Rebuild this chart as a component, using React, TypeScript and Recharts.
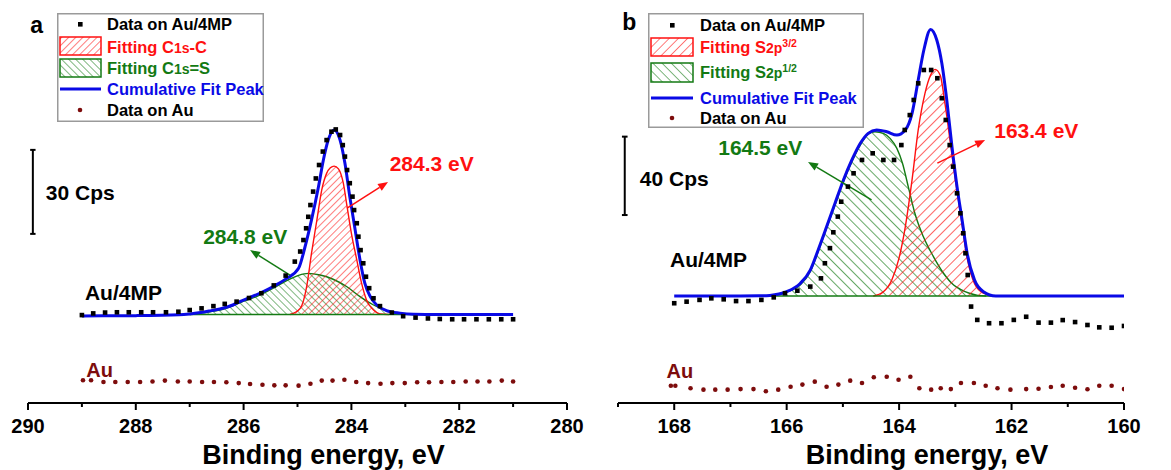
import React from 'react';
import {
  ComposedChart, Area, Line, Scatter, XAxis, YAxis, ReferenceLine, ReferenceDot, Legend,
} from 'recharts';

// ---------- Panel a : C 1s ----------
const aTicks = [280, 281, 282, 283, 284, 285, 286, 287, 288, 289, 290];
const aBase = 31.6;

const aSqE = [289.00, 288.79, 288.57, 288.35, 288.13, 287.90, 287.68, 287.44, 287.21, 287.00, 286.78, 286.56, 286.35, 286.13, 285.90, 285.67, 285.44, 285.22, 285.05, 284.95, 284.89, 284.84, 284.80, 284.76, 284.71, 284.66, 284.60, 284.53, 284.46, 284.37, 284.29, 284.21, 284.16, 284.12, 284.08, 284.03, 283.98, 283.95, 283.90, 283.87, 283.83, 283.78, 283.73, 283.67, 283.59, 283.47, 283.25, 283.04, 282.81, 282.58, 282.36, 282.13, 281.91, 281.68, 281.45, 281.22, 281.00];
const aSqV = [31.4, 32.0, 32.3, 32.4, 32.4, 32.4, 32.4, 32.4, 32.6, 33.2, 33.8, 34.6, 35.4, 36.2, 37.5, 39.2, 42.0, 45.5, 50.5, 54.1, 58.2, 62.4, 66.5, 70.7, 75.5, 80.2, 85.0, 89.8, 93.9, 96.9, 97.7, 95.7, 92.1, 88.0, 83.2, 78.5, 73.7, 68.9, 64.2, 59.4, 54.6, 49.9, 45.1, 41.0, 37.4, 34.6, 32.3, 31.0, 30.5, 30.2, 30.0, 29.9, 29.9, 29.9, 29.9, 29.9, 29.9];

const aFitE = [289.0, 288.0, 287.2, 287.0, 286.8, 286.6, 286.44, 286.2, 286.07, 285.88, 285.7, 285.45, 285.2, 284.98, 284.86, 284.74, 284.61, 284.52, 284.43, 284.32, 284.21, 284.12, 284.03, 283.93, 283.84, 283.75, 283.65, 283.53, 283.35, 283.1, 282.85, 282.4, 281.0];
const aFitV = [31.1, 31.2, 31.5, 31.8, 32.3, 33.0, 33.6, 35.0, 36.2, 37.7, 39.2, 41.6, 44.5, 48.1, 55.8, 65.4, 77.3, 86.8, 93.9, 97.5, 93.9, 85.6, 73.7, 61.8, 51.1, 42.7, 38.0, 35.0, 33.0, 32.1, 31.7, 31.6, 31.6];

const aRedE = [285.14, 284.95, 284.83, 284.74, 284.64, 284.55, 284.46, 284.39, 284.32, 284.24, 284.15, 284.08, 284.00, 283.90, 283.81, 283.72, 283.59, 283.47, 283.3];
const aRedV = [31.6, 33.8, 41.6, 53.5, 65.4, 76.1, 82.0, 84.0, 84.6, 83.6, 78.5, 70.1, 60.6, 51.1, 42.7, 36.8, 33.2, 31.8, 31.6];

const aGrnE = [287.0, 286.8, 286.6, 286.4, 286.2, 286.07, 285.76, 285.45, 285.20, 284.98, 284.80, 284.58, 284.34, 284.09, 283.84, 283.59, 283.35, 283.10, 282.85];
const aGrnV = [31.6, 32.1, 32.7, 33.4, 34.7, 35.8, 38.0, 41.0, 43.7, 45.6, 46.3, 45.7, 44.2, 41.6, 38.0, 35.0, 33.0, 32.0, 31.6];

const aAuE = [288.98, 288.83, 288.60, 288.38, 288.15, 287.92, 287.69, 287.46, 287.22, 287.00, 286.77, 286.55, 286.32, 286.09, 285.88, 285.65, 285.43, 285.22, 284.98, 284.76, 284.55, 284.35, 284.13, 283.91, 283.69, 283.46, 283.24, 283.01, 282.78, 282.56, 282.33, 282.11, 281.88, 281.66, 281.44, 281.21, 281.00];
const aAuV = [8.1, 8.1, 7.5, 7.5, 7.5, 7.5, 7.7, 8.0, 7.7, 7.7, 7.5, 7.5, 7.4, 7.1, 6.8, 6.5, 6.3, 6.3, 6.2, 6.9, 8.0, 8.0, 8.3, 7.5, 7.1, 6.9, 7.1, 7.1, 7.4, 7.4, 7.5, 7.5, 7.7, 7.7, 7.7, 8.0, 7.7];

// ---------- Panel b : S 2p ----------
const bTicks = [160, 161, 162, 163, 164, 165, 166, 167, 168, 169];
const bBase = 54.6;

const bSqE = [168.00, 167.78, 167.55, 167.34, 167.12, 166.90, 166.68, 166.45, 166.23, 166.03, 165.81, 165.58, 165.39, 165.32, 165.23, 165.17, 165.09, 165.03, 164.91, 164.81, 164.66, 164.47, 164.28, 164.09, 163.96, 163.90, 163.81, 163.74, 163.66, 163.56, 163.43, 163.32, 163.24, 163.17, 163.10, 163.04, 162.97, 162.91, 162.86, 162.82, 162.78, 162.72, 162.61, 162.40, 162.18, 161.96, 161.74, 161.52, 161.30, 161.09, 160.87, 160.65, 160.44, 160.22, 160.00];
const bSqV = [50.9, 51.7, 52.6, 53.4, 52.9, 52.0, 52.0, 52.6, 53.9, 56.0, 57.3, 59.4, 63.6, 71.3, 79.0, 87.1, 95.1, 102.7, 110.4, 117.2, 124.0, 127.4, 124.0, 124.0, 131.6, 139.3, 146.9, 154.6, 163.1, 169.9, 169.9, 165.7, 155.5, 144.4, 131.6, 120.6, 107.0, 96.8, 86.6, 76.4, 65.3, 49.2, 42.4, 40.7, 40.7, 42.4, 44.0, 41.0, 41.0, 42.3, 41.3, 39.8, 38.6, 38.4, 39.3];

const bFitE = [168.0, 167.0, 166.5, 166.3, 166.0, 165.76, 165.58, 165.44, 165.29, 165.14, 164.99, 164.84, 164.69, 164.55, 164.40, 164.22, 164.04, 163.89, 163.77, 163.66, 163.56, 163.44, 163.33, 163.24, 163.15, 163.06, 162.97, 162.88, 162.79, 162.66, 162.50, 162.28, 162.0, 161.0, 160.0];
const bFitV = [54.6, 54.6, 54.7, 54.9, 56.8, 61.0, 67.8, 78.1, 89.9, 101.9, 113.8, 124.0, 132.5, 137.6, 139.3, 138.4, 136.7, 139.3, 147.8, 164.8, 180.1, 190.6, 185.2, 173.3, 154.0, 130.8, 110.4, 93.4, 76.4, 62.8, 56.8, 54.6, 54.6, 54.6, 54.6];

const bRedE = [164.46, 164.28, 164.13, 164.01, 163.89, 163.77, 163.66, 163.54, 163.44, 163.36, 163.27, 163.18, 163.09, 163.00, 162.91, 162.79, 162.66, 162.50, 162.35, 162.2];
const bRedV = [54.6, 56.8, 62.8, 73.0, 89.9, 113.8, 139.3, 158.0, 167.3, 170.2, 167.3, 152.0, 133.0, 114.0, 97.0, 74.0, 61.0, 56.0, 54.8, 54.6];

const bGrnE = [166.3, 166.0, 165.76, 165.58, 165.44, 165.29, 165.14, 164.99, 164.84, 164.69, 164.55, 164.43, 164.28, 164.16, 164.04, 163.94, 163.83, 163.72, 163.57, 163.39, 163.21, 163.03, 162.91, 162.75, 162.6, 162.45];
const bGrnV = [54.6, 56.6, 60.2, 67.0, 77.2, 89.1, 101.0, 112.9, 123.1, 131.6, 137.1, 138.4, 137.6, 135.0, 129.9, 122.3, 109.5, 96.8, 84.9, 74.7, 66.2, 60.2, 58.0, 56.0, 54.9, 54.6];

const bAuE = [168.06, 167.98, 167.71, 167.48, 167.27, 167.05, 166.82, 166.59, 166.37, 166.15, 165.93, 165.72, 165.50, 165.29, 165.08, 164.87, 164.66, 164.45, 164.22, 164.01, 163.80, 163.64, 163.43, 163.26, 163.08, 162.90, 162.67, 162.46, 162.25, 162.02, 161.74, 161.52, 161.30, 161.09, 160.87, 160.65, 160.44, 160.22, 160.00];
const bAuV = [8.8, 8.8, 7.5, 6.8, 6.8, 6.8, 7.1, 7.1, 6.0, 6.8, 8.3, 9.4, 10.9, 8.3, 9.4, 11.4, 10.2, 13.1, 13.4, 11.9, 13.4, 7.5, 6.8, 7.5, 7.1, 10.2, 10.2, 8.8, 7.5, 6.8, 7.1, 7.3, 8.2, 8.8, 7.8, 7.0, 8.8, 8.8, 7.1];

// ---------- helpers ----------
const zip = (es: number[], vs: number[]) => es.map((e, i) => ({ e, v: vs[i] }));

const RED = '#ff1010';
const GREEN = '#137a13';
const BLUE = '#0a0ae6';
const DARKRED = '#7d0c0c';
const FONT = "'Liberation Sans', Arial, sans-serif";

const SquareDot = (p: any) => <rect x={p.cx - 2.3} y={p.cy - 2.3} width={4.6} height={4.6} fill="#000" />;
const RoundDot = (p: any) => <circle cx={p.cx} cy={p.cy} r={2.3} fill={DARKRED} />;

const AxisTick = (p: any) => {
  const { x, y, payload } = p;
  const major = payload.value % 2 === 0;
  return (
    <g>
      <line x1={x} y1={y} x2={x} y2={y + (major ? 7 : 4)} stroke="#000" strokeWidth={2} />
      {major && (
        <text x={x} y={y + 30} textAnchor="middle" fontSize={20} fontWeight="bold" fill="#000" fontFamily={FONT}>
          {payload.value}
        </text>
      )}
    </g>
  );
};

const arrowShape = (color: string) => (p: any) => {
  const { x1, y1, x2, y2 } = p;
  const ang = Math.atan2(y2 - y1, x2 - x1);
  const L = 10;
  const W = 4;
  const bx = x2 - L * Math.cos(ang);
  const by = y2 - L * Math.sin(ang);
  const px = -Math.sin(ang) * W;
  const py = Math.cos(ang) * W;
  return (
    <g>
      <line x1={x1} y1={y1} x2={bx} y2={by} stroke={color} strokeWidth={1.5} />
      <polygon points={`${x2},${y2} ${bx + px},${by + py} ${bx - px},${by - py}`} fill={color} />
    </g>
  );
};

const hatch = (id: string, color: string, angle: number, gap: number, w = 1.1) => (
  <pattern id={id} patternUnits="userSpaceOnUse" width={gap} height={gap} patternTransform={`rotate(${angle})`}>
    <line x1={0} y1={0} x2={0} y2={gap} stroke={color} strokeWidth={w} />
  </pattern>
);

const label = (value: string, fill: string, fontSize: number) => ({
  value, fill, fontSize, fontWeight: 'bold', position: 'center' as const, fontFamily: FONT,
});

// ---------- legends ----------
const LegendA = () => (
  <svg width={207} height={109} style={{ display: 'block', fontFamily: FONT }}>
    <defs>
      {hatch('lgRedA', RED, 45, 5)}
      {hatch('lgGrnA', GREEN, -45, 5)}
    </defs>
    <rect x={0.75} y={0.75} width={205.5} height={107.5} fill="#fff" stroke="#9a9a9a" strokeWidth={1.5} />
    <rect x={21} y={9} width={4.6} height={4.6} fill="#000" />
    <text x={50} y={17} fontSize={16.5} fontWeight="bold" fill="#000">Data on Au/4MP</text>
    <rect x={3} y={24} width={41} height={18} fill="url(#lgRedA)" stroke={RED} strokeWidth={1.5} />
    <text x={50} y={39.5} fontSize={16.5} fontWeight="bold" fill={RED}>
      Fitting C<tspan fontSize={14}>1s</tspan>-C
    </text>
    <rect x={3} y={46} width={41} height={18} fill="url(#lgGrnA)" stroke={GREEN} strokeWidth={1.5} />
    <text x={50} y={61} fontSize={16.5} fontWeight="bold" fill={GREEN}>
      Fitting C<tspan fontSize={14}>1s</tspan>=S
    </text>
    <line x1={3} y1={76} x2={44} y2={76} stroke={BLUE} strokeWidth={3} />
    <text x={50} y={82} fontSize={16.5} fontWeight="bold" fill={BLUE}>Cumulative Fit Peak</text>
    <circle cx={23} cy={97} r={2.3} fill={DARKRED} />
    <text x={50} y={103} fontSize={16.5} fontWeight="bold" fill="#000">Data on Au</text>
  </svg>
);

const LegendB = () => (
  <svg width={216} height={115} style={{ display: 'block', fontFamily: FONT }}>
    <defs>
      {hatch('lgRedB', RED, 45, 6.5)}
      {hatch('lgGrnB', GREEN, -45, 6.5)}
    </defs>
    <rect x={0.75} y={0.75} width={214.5} height={113.5} fill="#fff" stroke="#9a9a9a" strokeWidth={1.5} />
    <rect x={22} y={10} width={4.6} height={4.6} fill="#000" />
    <text x={52} y={18} fontSize={16.5} fontWeight="bold" fill="#000">Data on Au/4MP</text>
    <rect x={3} y={25} width={42} height={18} fill="url(#lgRedB)" stroke={RED} strokeWidth={1.5} />
    <text x={52} y={40} fontSize={16.5} fontWeight="bold" fill={RED}>
      Fitting S<tspan fontSize={14}>2p</tspan><tspan fontSize={10.5} dy={-6}>3/2</tspan>
    </text>
    <rect x={3} y={50} width={42} height={19} fill="url(#lgGrnB)" stroke={GREEN} strokeWidth={1.5} />
    <text x={52} y={65} fontSize={16.5} fontWeight="bold" fill={GREEN}>
      Fitting S<tspan fontSize={14}>2p</tspan><tspan fontSize={10.5} dy={-6}>1/2</tspan>
    </text>
    <line x1={3} y1={85} x2={45} y2={85} stroke={BLUE} strokeWidth={3} />
    <text x={52} y={91} fontSize={16.5} fontWeight="bold" fill={BLUE}>Cumulative Fit Peak</text>
    <circle cx={24} cy={105} r={2.3} fill={DARKRED} />
    <text x={52} y={111} fontSize={16.5} fontWeight="bold" fill="#000">Data on Au</text>
  </svg>
);

const xLabel = (value: string, dx: number) => ({
  value, position: 'insideBottom' as const, offset: 6, dx, fontSize: 27, fontWeight: 'bold', fill: '#000', fontFamily: FONT,
});

export default function App() {
  return (
    <div style={{ position: 'absolute', left: 0, top: 0, width: 1171, height: 470, background: '#fff', fontFamily: FONT, overflow: 'hidden' }}>
      {/* Panel a */}
      <div style={{ position: 'absolute', left: 0, top: 0 }}>
        <ComposedChart width={600} height={470} margin={{ top: 11, right: 33, bottom: 0, left: 28 }}>
          <defs>
            {hatch('hRedA', RED, 45, 5)}
            {hatch('hGrnA', GREEN, -45, 5)}
          </defs>
          <XAxis type="number" dataKey="e" domain={[280, 290]} reversed ticks={aTicks} interval={0}
            tick={(p: any) => <AxisTick {...p} />} tickSize={0} tickMargin={0} tickLine={false} height={67}
            axisLine={{ stroke: '#000', strokeWidth: 2 }} allowDataOverflow label={xLabel('Binding energy, eV', 26)} />
          <YAxis type="number" hide domain={[0, 140]} allowDataOverflow />
          <Legend layout="vertical" align="center" verticalAlign="middle" content={() => <LegendA />}
            wrapperStyle={{ left: 57, top: 13, width: 207, height: 109 }} />
          <Area data={zip(aGrnE, aGrnV)} dataKey="v" type="monotone" baseValue={aBase} stroke={GREEN} strokeWidth={1.4}
            fill="url(#hGrnA)" fillOpacity={1} isAnimationActive={false} dot={false} activeDot={false} legendType="none" />
          <Area data={zip(aRedE, aRedV)} dataKey="v" type="monotone" baseValue={aBase} stroke={RED} strokeWidth={1.4}
            fill="url(#hRedA)" fillOpacity={1} isAnimationActive={false} dot={false} activeDot={false} legendType="none" />
          <ReferenceLine segment={[{ x: 287.0, y: aBase }, { x: 282.85, y: aBase }]} stroke={GREEN} strokeWidth={1.4} />
          <Scatter data={zip(aSqE, aSqV)} dataKey="v" shape={SquareDot} isAnimationActive={false} legendType="none" />
          <Line data={zip(aFitE, aFitV)} dataKey="v" type="monotone" stroke={BLUE} strokeWidth={3} dot={false}
            activeDot={false} isAnimationActive={false} legendType="none" />
          <Scatter data={zip(aAuE, aAuV)} dataKey="v" shape={RoundDot} isAnimationActive={false} legendType="none" />
          {/* scale bar */}
          <ReferenceLine segment={[{ x: 289.91, y: 60.4 }, { x: 289.91, y: 90.4 }]} stroke="#000" strokeWidth={2} />
          <ReferenceLine segment={[{ x: 289.96, y: 90.4 }, { x: 289.86, y: 90.4 }]} stroke="#000" strokeWidth={2} />
          <ReferenceLine segment={[{ x: 289.96, y: 60.4 }, { x: 289.86, y: 60.4 }]} stroke="#000" strokeWidth={2} />
          {/* arrows */}
          <ReferenceLine segment={[{ x: 284.08, y: 69.6 }, { x: 283.32, y: 78.9 }]} stroke={RED} shape={arrowShape(RED)} />
          <ReferenceLine segment={[{ x: 285.14, y: 45.7 }, { x: 285.88, y: 54.6 }]} stroke={GREEN} shape={arrowShape(GREEN)} />
          {/* texts */}
          <ReferenceDot x={282.51} y={85.4} r={0} label={label('284.3 eV', RED, 21)} />
          <ReferenceDot x={285.97} y={59.6} r={0} label={label('284.8 eV', GREEN, 21)} />
          <ReferenceDot x={288.23} y={39.6} r={0} label={label('Au/4MP', '#000', 21)} />
          <ReferenceDot x={289.03} y={75.0} r={0} label={label('30 Cps', '#000', 21)} />
          <ReferenceDot x={288.67} y={11.8} r={0} label={label('Au', DARKRED, 20)} />
          <ReferenceDot x={289.84} y={135.2} r={0} label={label('a', '#000', 23)} />
        </ComposedChart>
      </div>

      {/* Panel b */}
      <div style={{ position: 'absolute', left: 600, top: 0 }}>
        <ComposedChart width={571} height={470} margin={{ top: 11, right: 47, bottom: 0, left: 18 }}>
          <defs>
            {hatch('hRedB', RED, 45, 7, 1.3)}
            {hatch('hGrnB', GREEN, -45, 7, 1.3)}
          </defs>
          <XAxis type="number" dataKey="e" domain={[160, 169]} reversed ticks={bTicks} interval={0}
            tick={(p: any) => <AxisTick {...p} />} tickSize={0} tickMargin={0} tickLine={false} height={67}
            axisLine={{ stroke: '#000', strokeWidth: 2 }} allowDataOverflow label={xLabel('Binding energy, eV', 56)} />
          <YAxis type="number" hide domain={[0, 200]} allowDataOverflow />
          <Legend layout="vertical" align="center" verticalAlign="middle" content={() => <LegendB />}
            wrapperStyle={{ left: 48, top: 13, width: 216, height: 115 }} />
          <Area data={zip(bGrnE, bGrnV)} dataKey="v" type="monotone" baseValue={bBase} stroke={GREEN} strokeWidth={1.4}
            fill="url(#hGrnB)" fillOpacity={1} isAnimationActive={false} dot={false} activeDot={false} legendType="none" />
          <Area data={zip(bRedE, bRedV)} dataKey="v" type="monotone" baseValue={bBase} stroke={RED} strokeWidth={1.4}
            fill="url(#hRedB)" fillOpacity={1} isAnimationActive={false} dot={false} activeDot={false} legendType="none" />
          <ReferenceLine segment={[{ x: 166.3, y: bBase }, { x: 162.3, y: bBase }]} stroke={GREEN} strokeWidth={1.4} />
          <Scatter data={zip(bSqE, bSqV)} dataKey="v" shape={SquareDot} isAnimationActive={false} legendType="none" />
          <Line data={zip(bFitE, bFitV)} dataKey="v" type="monotone" stroke={BLUE} strokeWidth={3} dot={false}
            activeDot={false} isAnimationActive={false} legendType="none" />
          <Scatter data={zip(bAuE, bAuV)} dataKey="v" shape={RoundDot} isAnimationActive={false} legendType="none" />
          {/* scale bar */}
          <ReferenceLine segment={[{ x: 168.88, y: 95.9 }, { x: 168.88, y: 135.9 }]} stroke="#000" strokeWidth={2} />
          <ReferenceLine segment={[{ x: 168.93, y: 135.9 }, { x: 168.83, y: 135.9 }]} stroke="#000" strokeWidth={2} />
          <ReferenceLine segment={[{ x: 168.93, y: 95.9 }, { x: 168.83, y: 95.9 }]} stroke="#000" strokeWidth={2} />
          {/* arrows */}
          <ReferenceLine segment={[{ x: 163.32, y: 122.4 }, { x: 162.47, y: 134.2 }]} stroke={RED} shape={arrowShape(RED)} />
          <ReferenceLine segment={[{ x: 164.49, y: 103.6 }, { x: 165.62, y: 123.0 }]} stroke={GREEN} shape={arrowShape(GREEN)} />
          {/* texts */}
          <ReferenceDot x={161.56} y={138.8} r={0} label={label('163.4 eV', RED, 21)} />
          <ReferenceDot x={166.47} y={130.1} r={0} label={label('164.5 eV', GREEN, 21)} />
          <ReferenceDot x={167.39} y={73.0} r={0} label={label('Au/4MP', '#000', 21)} />
          <ReferenceDot x={168.0} y={114.3} r={0} label={label('40 Cps', '#000', 21)} />
          <ReferenceDot x={167.9} y={16.3} r={0} label={label('Au', DARKRED, 20)} />
          <ReferenceDot x={168.8} y={194.5} r={0} label={label('b', '#000', 23)} />
        </ComposedChart>
      </div>
    </div>
  );
}
